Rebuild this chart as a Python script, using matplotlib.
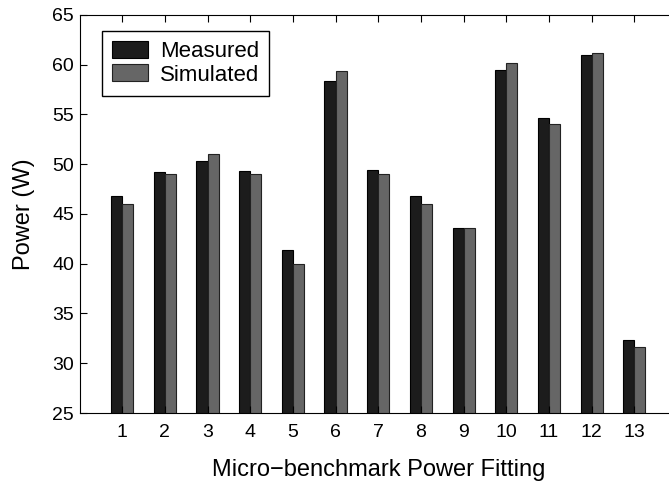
import matplotlib.pyplot as plt
import numpy as np

plt.rcParams['font.family'] = ['Liberation Sans', 'DejaVu Sans']

benchmarks = list(range(1, 14))
measured = [46.8, 49.2, 50.3, 49.35, 41.4, 58.4, 49.4, 46.8, 43.6, 59.5, 54.6, 60.95, 32.3]
simulated = [46.0, 49.0, 51.0, 49.0, 40.0, 59.35, 49.0, 46.0, 43.6, 60.2, 54.0, 61.2, 31.6]

fig = plt.figure(figsize=(6.69, 4.83), dpi=100)
# axes runs slightly past the right edge of the image, like the cropped original
ax = fig.add_axes([79.5 / 669, (483 - 413) / 483, (677 - 79.5) / 669, (413 - 15) / 483])

x = np.array(benchmarks)
w = 0.26
ax.bar(x - w / 2, measured, w, bottom=0, color='#1c1c1c', edgecolor='#000000',
       linewidth=0.8, label='Measured')
ax.bar(x + w / 2, simulated, w, bottom=0, color='#666666', edgecolor='#222222',
       linewidth=0.8, label='Simulated')

ax.set_xlim(0, 14)
ax.set_ylim(25, 65)
ax.set_xticks(benchmarks)
ax.set_yticks(range(25, 66, 5))
ax.tick_params(direction='in', top=True, right=False, labelsize=14, length=5)
ax.tick_params(axis='x', pad=8)
ax.tick_params(axis='y', pad=4)
ax.spines['right'].set_visible(False)
for s in ax.spines.values():
    s.set_linewidth(0.8)

ax.set_xlabel('Micro\u2212benchmark Power Fitting', fontsize=17, labelpad=13)
ax.set_ylabel('Power (W)', fontsize=17, labelpad=12)

leg = ax.legend(loc='upper left', bbox_to_anchor=(0.038, 0.96), borderaxespad=0,
                fontsize=16, fancybox=False, edgecolor='black', framealpha=1,
                handlelength=1.6, handleheight=0.8, borderpad=0.45,
                labelspacing=0.1, handletextpad=0.55)
leg.get_frame().set_linewidth(1.0)

fig.savefig('out.png', dpi=100)
